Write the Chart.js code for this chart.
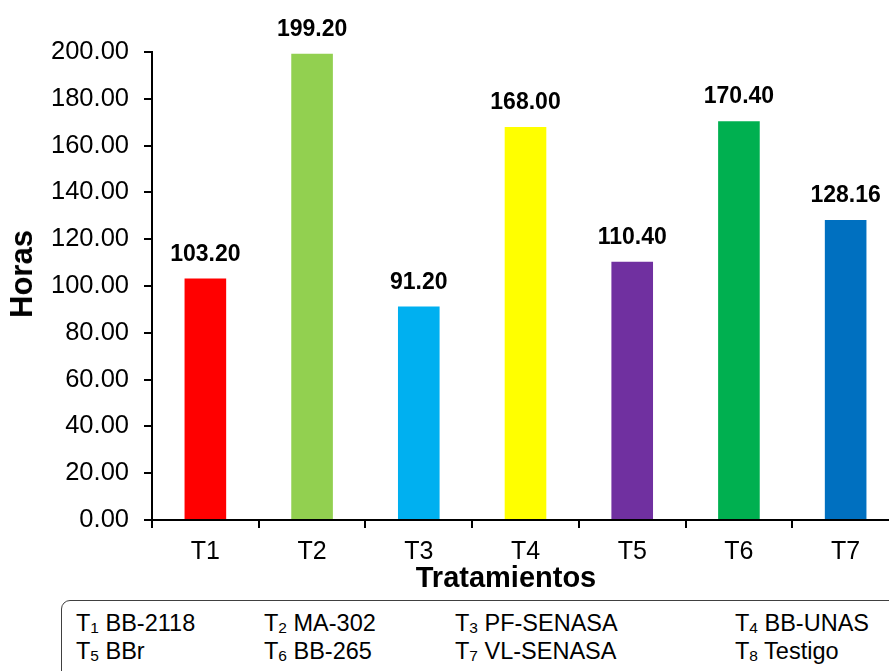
<!DOCTYPE html>
<html>
<head>
<meta charset="utf-8">
<script src="https://cdn.jsdelivr.net/npm/chart.js@4.4.1/dist/chart.umd.min.js"></script>
<style>
  html, body { margin: 0; padding: 0; background: #fff; overflow: hidden; }
  body { width: 889px; height: 671px; position: relative; font-family: "Liberation Sans", Arial, sans-serif; }
  #contenedor { position: absolute; left: 0; top: 0; width: 899px; height: 600px; }
  .tituloEje { position: absolute; font-weight: bold; color: #000; white-space: nowrap; }
  #tituloX { font-size: 29px; left: 506px; top: 577px; transform: translate(-50%, -50%); }
  #tituloY { font-size: 31px; left: 22px; top: 274px; transform: translate(-50%, -50%) rotate(-90deg); }
  #leyenda {
    position: absolute; left: 61px; top: 600px; width: 860px; height: 90px;
    border: 1.5px solid #404040; border-radius: 9px; box-sizing: border-box;
    font-size: 23.5px; line-height: 28px; color: #000;
  }
  #leyenda span { position: absolute; white-space: nowrap; }
  #leyenda sub { font-size: 0.66em; vertical-align: -0.15em; line-height: 0; }
</style>
</head>
<body>
<div id="contenedor"><canvas id="graficoHoras"></canvas></div>
<div id="tituloY" class="tituloEje">Horas</div>
<div id="tituloX" class="tituloEje">Tratamientos</div>
<div id="leyenda"></div>

<script>
const tratamientos = ["T1", "T2", "T3", "T4", "T5", "T6", "T7"];
const horas = [103.20, 199.20, 91.20, 168.00, 110.40, 170.40, 128.16];
const coloresBarras = ["#FF0000", "#92D050", "#00B0F0", "#FFFF00", "#7030A0", "#00B050", "#0070C0"];
const ticksHoras = [0, 20, 40, 60, 80, 100, 120, 140, 160, 180, 200];

// leyenda de tratamientos (4 columnas x 2 filas)
const codigosLeyenda = ["1", "2", "3", "4", "5", "6", "7", "8"];
const nombresLeyenda = ["BB-2118", "MA-302", "PF-SENASA", "BB-UNAS", "BBr", "BB-265", "VL-SENASA", "Testigo"];
const columnasLeyenda = [14, 202, 393, 673];

window.onload = function () {

    Chart.defaults.font.family = '"Liberation Sans", Arial, sans-serif';
    Chart.defaults.color = '#000';

    const leyenda = document.getElementById('leyenda');
    codigosLeyenda.forEach((codigo, i) => {
        const item = document.createElement('span');
        item.style.left = columnasLeyenda[i % 4] + 'px';
        item.style.top = (8 + Math.floor(i / 4) * 28) + 'px';
        item.innerHTML = 'T<sub>' + codigo + '</sub> ' + nombresLeyenda[i];
        leyenda.appendChild(item);
    });

    // valores encima de cada barra
    const etiquetasValor = {
        id: 'etiquetasValor',
        afterDatasetsDraw(chart) {
            const ctx = chart.ctx;
            const meta = chart.getDatasetMeta(0);
            ctx.save();
            ctx.font = 'bold 23px "Liberation Sans", Arial, sans-serif';
            ctx.fillStyle = '#000';
            ctx.textAlign = 'center';
            ctx.textBaseline = 'alphabetic';
            meta.data.forEach((barra, i) => {
                ctx.fillText(horas[i].toFixed(2), barra.x, barra.y - 18);
            });
            ctx.restore();
        }
    };

    new Chart(document.getElementById('graficoHoras'), {
        type: 'bar',
        data: {
            labels: tratamientos,
            datasets: [{
                data: horas,
                backgroundColor: coloresBarras,
                borderWidth: 0,
                barPercentage: 0.39,
                categoryPercentage: 1
            }]
        },
        options: {
            responsive: true,
            maintainAspectRatio: false,
            animation: false,
            layout: { padding: { top: 52, right: 0, left: 0, bottom: 0 } },
            plugins: {
                legend: { display: false },
                tooltip: { enabled: false }
            },
            scales: {
                x: {
                    grid: { display: true, drawOnChartArea: false, drawTicks: true, tickLength: 8, color: '#000', lineWidth: 2 },
                    border: { display: true, color: '#000', width: 2 },
                    ticks: { font: { size: 25 }, padding: 9, color: '#000' },
                    afterFit(scale) { scale.height = 80; }
                },
                y: {
                    min: 0,
                    max: 200,
                    afterBuildTicks(scale) { scale.ticks = ticksHoras.map(v => ({ value: v })); },
                    grid: { display: true, drawOnChartArea: false, drawTicks: true, tickLength: 8, color: '#000', lineWidth: 2 },
                    border: { display: true, color: '#000', width: 2 },
                    ticks: {
                        font: { size: 25.5 },
                        padding: 15,
                        color: '#000',
                        callback: (valor) => Number(valor).toFixed(2)
                    },
                    afterFit(scale) { scale.width = 152; }
                }
            }
        },
        plugins: [etiquetasValor]
    });

}
</script>
</body>
</html>
